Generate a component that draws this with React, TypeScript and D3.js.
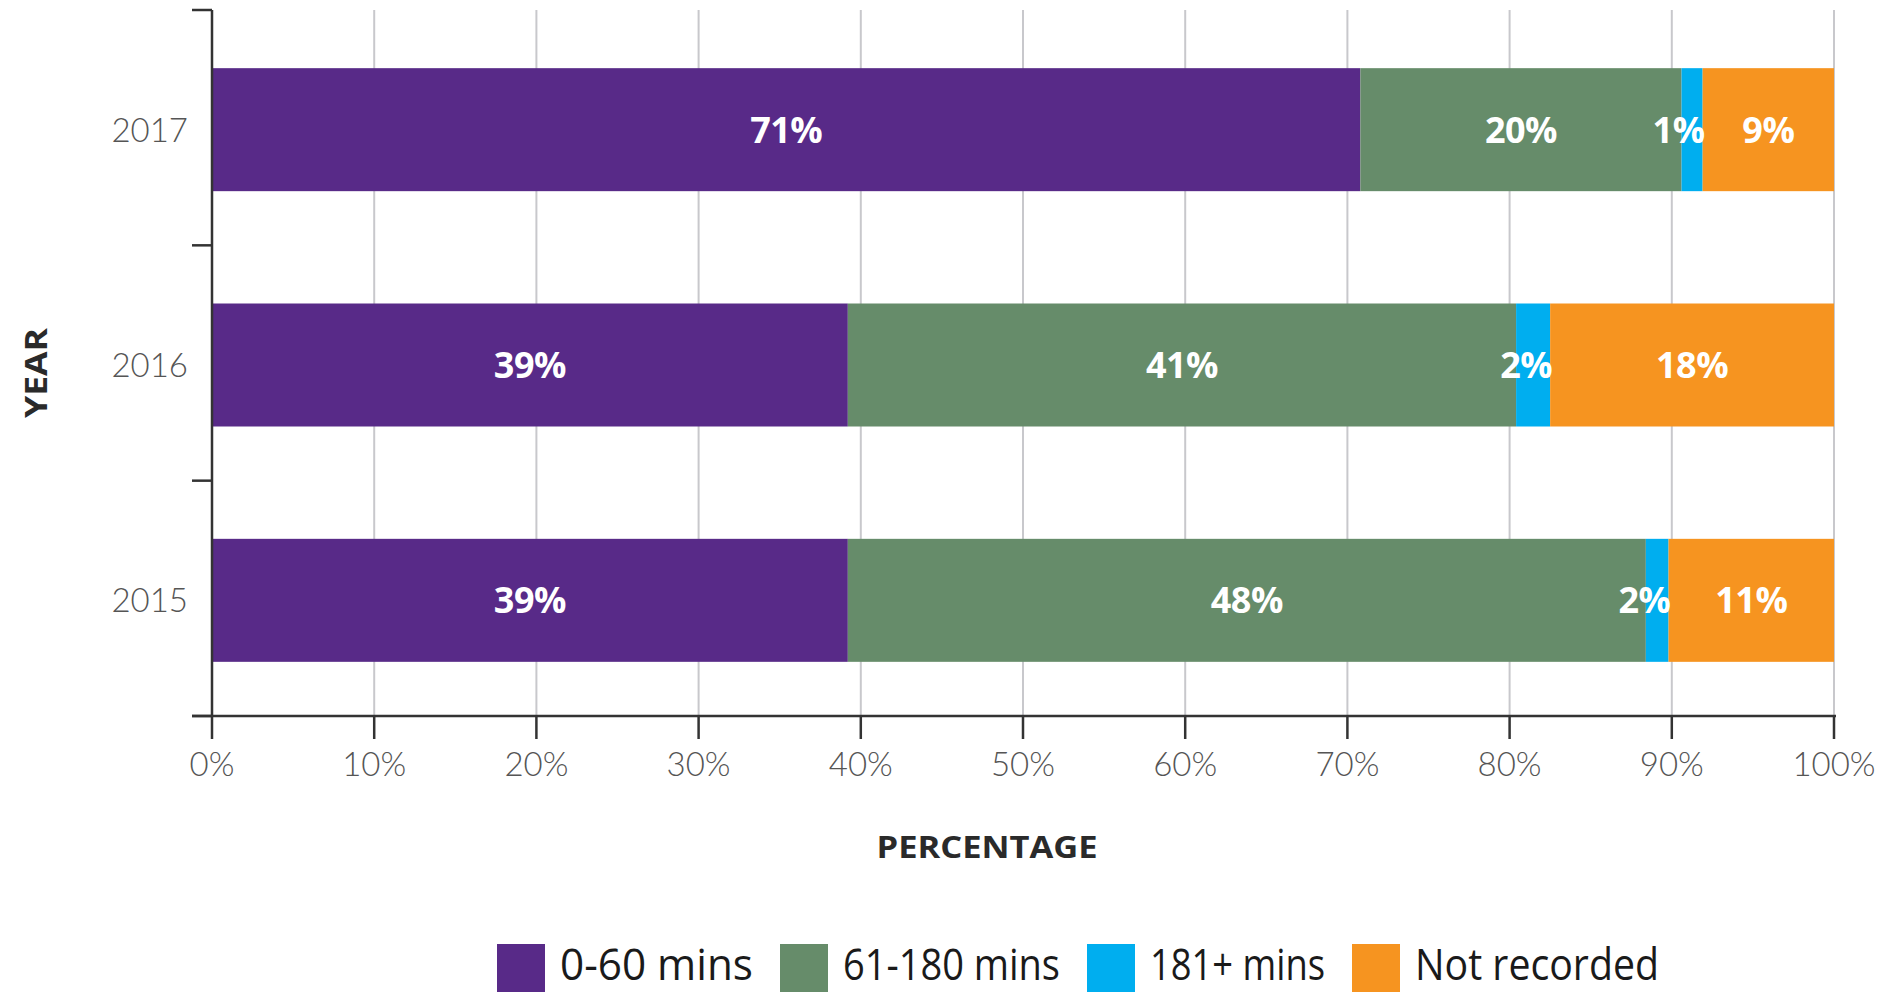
import React from "react";
import * as d3 from "d3";

const years = ["2017", "2016", "2015"];
const seriesNames = ["0-60 mins", "61-180 mins", "181+ mins", "Not recorded"];
const seriesColors = ["#582a88", "#668c6a", "#00aeef", "#f69420"];
const mins0to60 = [70.8, 39.2, 39.2];
const mins61to180 = [19.8, 41.2, 49.2];
const mins181plus = [1.3, 2.1, 1.4];
const notRecorded = [8.1, 17.5, 10.2];
const barLabels = [
  ["71%", "20%", "1%", "9%"],
  ["39%", "41%", "2%", "18%"],
  ["39%", "48%", "2%", "11%"],
];
const xTicks = [0, 10, 20, 30, 40, 50, 60, 70, 80, 90, 100];

const W = 1891;
const H = 992;
const left = 212;
const right = 1834;
const top = 10;
const bottom = 716;

export default function App() {
  const x = d3.scaleLinear().domain([0, 100]).range([left, right]);
  const y = d3.scaleBand<string>().domain(years).range([top, bottom]).paddingInner(0).paddingOuter(0);
  const barH = 123;

  const rows = years.map((yr, i) => ({
    year: yr,
    vals: [mins0to60[i], mins61to180[i], mins181plus[i], notRecorded[i]],
    labels: barLabels[i],
  }));
  const stack = d3.stack<any>().keys(["0", "1", "2", "3"]).value((d: any, k: string) => d.vals[+k]);
  const stacked = stack(rows as any);

  const legendTextW = [193, 217, 175, 244];
  let lx = 497;
  const legendItems = seriesNames.map((name, i) => {
    const item = { name, color: seriesColors[i], sx: lx, tx: lx + 48 + 15, w: legendTextW[i] };
    lx = lx + 48 + 15 + legendTextW[i] + 27;
    return item;
  });

  const boundaries = [top, ...years.map((yr) => (y(yr) as number) + y.bandwidth())];
  const center = (yr: string) => (y(yr) as number) + y.bandwidth() / 2 + 2;

  return (
    <div style={{ position: "absolute", left: 0, top: 0 }}>
      <svg width={W} height={H} style={{ display: "block", background: "#fff" }}>
        {/* gridlines */}
        {xTicks.filter((t) => t > 0).map((t) => (
          <line key={"g" + t} x1={x(t)} x2={x(t)} y1={top} y2={bottom} stroke="#c8c8cc" strokeWidth={2} />
        ))}
        {/* bars */}
        {stacked.map((layer, si) =>
          layer.map((seg: any, ri: number) => {
            const yr = years[ri];
            const by = center(yr) - barH / 2;
            return (
              <rect
                key={`b${si}-${ri}`}
                x={x(seg[0])}
                y={by}
                width={x(seg[1]) - x(seg[0])}
                height={barH}
                fill={seriesColors[si]}
              />
            );
          })
        )}
        {/* labels */}
        {stacked.map((layer, si) =>
          layer.map((seg: any, ri: number) => {
            const yr = years[ri];
            const cy = center(yr);
            const v = seg[1] - seg[0];
            const small = v < 5;
            const tx = small ? x(seg[1]) + 2 : (x(seg[0]) + x(seg[1])) / 2;
            return (
              <text
                key={`l${si}-${ri}`}
                x={tx}
                y={cy}
                dy="0.36em"
                textAnchor={small ? "end" : "middle"}
                fill="#fff"
                fontFamily="'Open Sans', sans-serif"
                fontWeight={700}
                fontSize={36}
                letterSpacing={-0.5}
              >
                {rows[ri].labels[si]}
              </text>
            );
          })
        )}
        {/* y axis */}
        <line x1={left} x2={left} y1={top} y2={bottom} stroke="#333" strokeWidth={2.5} />
        {boundaries.map((b, i) => (
          <line key={"yt" + i} x1={192} x2={left} y1={b} y2={b} stroke="#333" strokeWidth={2.5} />
        ))}
        {years.map((yr) => (
          <text
            key={"yl" + yr}
            x={188}
            y={center(yr)}
            dy="0.36em"
            textAnchor="end"
            fill="#555"
            fontFamily="Lato, sans-serif"
            fontWeight={300}
            fontSize={33}
          >
            {yr}
          </text>
        ))}
        {/* x axis */}
        <line x1={192} x2={right + 2} y1={bottom} y2={bottom} stroke="#333" strokeWidth={2.5} />
        {xTicks.map((t) => (
          <g key={"xt" + t}>
            <line x1={x(t)} x2={x(t)} y1={bottom} y2={739} stroke="#333" strokeWidth={2.5} />
            <text
              x={x(t)}
              y={776}
              textAnchor="middle"
              fill="#555"
              fontFamily="Lato, sans-serif"
              fontWeight={300}
              fontSize={33}
            >
              {t + "%"}
            </text>
          </g>
        ))}
        {/* axis titles */}
        <text
          x={987}
          y={858}
          textAnchor="middle"
          fill="#2a2a2a"
          fontFamily="'Open Sans', sans-serif"
          fontWeight={700}
          fontSize={31}
          textLength={221}
          lengthAdjust="spacingAndGlyphs"
        >
          PERCENTAGE
        </text>
        <text
          transform="translate(47,373) rotate(-90)"
          textAnchor="middle"
          fill="#2a2a2a"
          fontFamily="'Open Sans', sans-serif"
          fontWeight={700}
          fontSize={31}
          textLength={90}
          lengthAdjust="spacingAndGlyphs"
        >
          YEAR
        </text>
        {/* legend */}
        {legendItems.map((it) => (
          <g key={"lg" + it.name}>
            <rect x={it.sx} y={944} width={48} height={50} fill={it.color} />
            <text
              x={it.tx}
              y={980}
              fill="#1a1a1a"
              fontFamily="'Open Sans', sans-serif"
              fontSize={44}
              textLength={it.w}
              lengthAdjust="spacingAndGlyphs"
            >
              {it.name}
            </text>
          </g>
        ))}
      </svg>
    </div>
  );
}
